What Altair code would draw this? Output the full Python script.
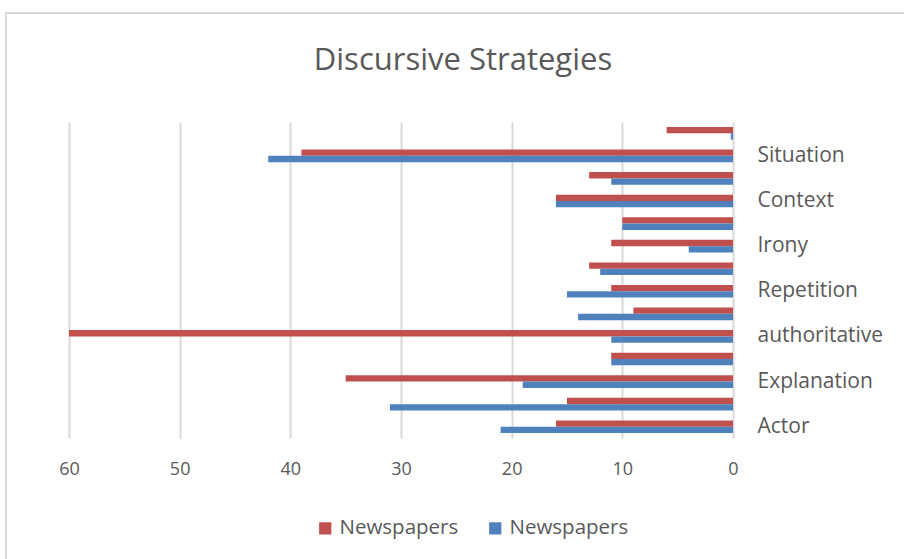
import altair as alt
import pandas as pd

# 14 category slots (Excel shows every other label)
slot_labels = ["", "Situation", "", "Context", "", "Irony", "", "Repetition",
               "", "authoritative", "", "Explanation", "", "Actor"]
red_values = [6, 39, 13, 16, 10, 11, 13, 11, 9, 60, 11, 35, 15, 16]
blue_values = [0.2, 42, 11, 16, 10, 4, 12, 15, 14, 11, 11, 19, 31, 21]
series_ids = ["Newspapers (1)", "Newspapers (2)"]
series_colors = ["#C0504D", "#4F81BD"]
x_ticks = [0, 10, 20, 30, 40, 50, 60]
chart_title = "Discursive Strategies"

rows = []
for i, lab in enumerate(slot_labels):
    rows.append({"slot": i + 1, "label": lab, "series": series_ids[0], "value": red_values[i]})
    rows.append({"slot": i + 1, "label": lab, "series": series_ids[1], "value": blue_values[i]})
df = pd.DataFrame(rows)

label_expr = "[" + ",".join("'" + l + "'" for l in slot_labels) + "][datum.value - 1]"

FONT = "Open Sans"
GREY = "#595959"

bars = alt.Chart(df).mark_bar().encode(
    x=alt.X("value:Q",
            scale=alt.Scale(domain=[0, 60], reverse=True, nice=False),
            axis=alt.Axis(values=x_ticks, title=None, grid=True, gridColor="#D9D9D9",
                          gridWidth=2, ticks=False, domain=False, labelFontSize=18,
                          labelColor=GREY, labelFont=FONT, labelPadding=22,
                          labelFlush=False)),
    y=alt.Y("slot:O",
            scale=alt.Scale(paddingInner=0.44, paddingOuter=0.22),
            axis=alt.Axis(orient="right", title=None, ticks=False, domain=False,
                          labelExpr=label_expr, labelAlign="left", labelPadding=24,
                          labelFontSize=21, labelColor=GREY, labelFont=FONT)),
    yOffset=alt.YOffset("series:N", sort=series_ids),
    color=alt.Color("series:N",
                    scale=alt.Scale(domain=series_ids, range=series_colors),
                    legend=alt.Legend(title=None, orient="none", direction="horizontal",
                                      legendX=246, legendY=396, symbolType="square",
                                      symbolSize=150, symbolStrokeWidth=0,
                                      labelFontSize=20.5, labelColor=GREY, labelFont=FONT,
                                      labelExpr="split(datum.label, ' (')[0]",
                                      columnPadding=26, labelLimit=300)),
)

border = alt.Chart(alt.Data(values=[{}])).mark_rect(
    fill=None, stroke="#D9D9D9", strokeWidth=2
).encode(x=alt.value(-63), x2=alt.value(840), y=alt.value(-109), y2=alt.value(440))

title = alt.Chart(alt.Data(values=[{"t": chart_title}])).mark_text(
    font=FONT, fontSize=31, color=GREY, align="center", baseline="middle"
).encode(text="t:N", x=alt.value(394), y=alt.value(-61))

chart = alt.layer(border, title, bars).properties(
    width=664, height=316,
    autosize=alt.AutoSizeParams(type="none"),
    padding={"left": 69, "top": 122, "right": 171, "bottom": 121},
    background="white",
).configure_view(stroke=None)

chart.save("out.html", embed_options={"renderer": "svg", "actions": False})
